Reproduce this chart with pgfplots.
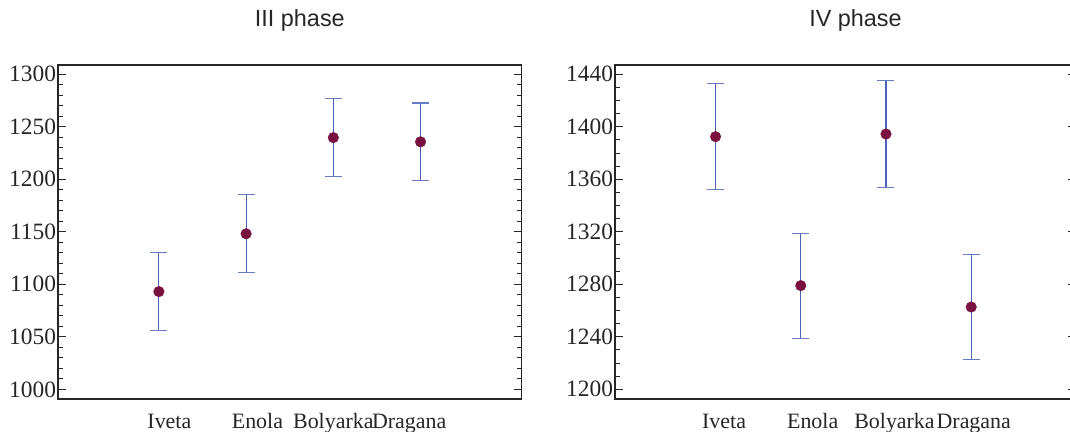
\documentclass[border=0pt]{standalone}
\usepackage{fontspec}
\setmainfont{Liberation Serif}
\newfontfamily\sansf{Liberation Sans}
\usepackage{pgfplots}
\pgfplotsset{compat=1.18}
\definecolor{dotred}{HTML}{7A1240}
\definecolor{errblue}{HTML}{4A64B8}
\definecolor{spine}{HTML}{262626}
\pgfplotsset{
  panel/.style={
    scale only axis,
    anchor=south west,
    height=334bp,
    axis line style={spine, line width=1.3bp},
    every tick/.style={spine, line width=1bp},
    major tick length=8bp,
    minor tick length=5bp,
    tick align=inside,
    ytick pos=both,
    yticklabel pos=left,
    xtick style={draw=none},
    /pgf/number format/assume math mode=true,
    /pgf/number format/set thousands separator={},
    yticklabel style={font=\rmfamily\fontsize{23.5}{23.5}\selectfont, text=spine, xshift=1.5bp},
    xticklabel style={font=\rmfamily\fontsize{22}{22}\selectfont, text=spine, anchor=base, yshift=-29bp},
    title style={font=\sansf\fontsize{23.5}{23.5}\selectfont, text=spine, at={(0.5,1)}, anchor=base, yshift=33bp, xshift=10bp},
    clip=false,
  },
  errplot/.style={
    only marks,
    mark=*,
    mark size=5.3bp,
    mark options={fill=dotred, draw=dotred},
    error bars/.cd,
      y dir=both, y explicit,
      error bar style={color=errblue, line width=1.1bp},
      error mark options={rotate=90, mark size=8.5bp, line width=1.2bp, color=errblue!85},
  },
}
\begin{document}
\begin{tikzpicture}
\useasboundingbox (0,0) rectangle (1070bp,432bp);
\begin{axis}[panel,
  at={(58bp,33bp)},
  width=463.7bp,
  xmin=-1.157, xmax=4.16,
  ymin=990.8, ymax=1308.6,
  ytick={1000,1050,...,1300},
  minor ytick={1000,1010,...,1300},
  xtick={0.12,1.13,2.0,2.87},
  xticklabels={Iveta,Enola,Bolyarka,Dragana},
  title={III phase},
]
\addplot[errplot] coordinates {
  (0,1093) +- (0,37)
  (1,1148) +- (0,37)
  (2,1239.5) +- (0,37)
  (3,1235.5) +- (0,37)
};
\end{axis}
\begin{axis}[panel,
  at={(615bp,33bp)},
  width=461bp,
  xmin=-1.18, xmax=4.23,
  ymin=1192.6, ymax=1447.1,
  ytick={1200,1240,...,1440},
  minor ytick={1200,1210,...,1440},
  xtick={0.1,1.14,2.1,3.03},
  xticklabels={Iveta,Enola,Bolyarka,Dragana},
  title={IV phase},
]
\addplot[errplot] coordinates {
  (0,1392.5) +- (0,40.3)
  (1,1279) +- (0,40)
  (2,1394.5) +- (0,40.5)
  (3,1262.7) +- (0,40)
};
\end{axis}
\end{tikzpicture}
\end{document}
